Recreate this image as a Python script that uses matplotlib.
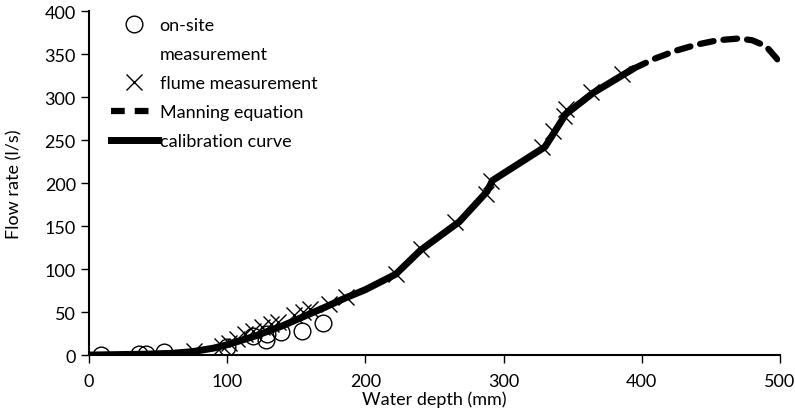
import matplotlib
matplotlib.use("Agg")
import matplotlib.pyplot as plt
from matplotlib.lines import Line2D

plt.rcParams['font.family'] = ['Lato', 'DejaVu Sans']

# on-site measurement
onsite_x = [9, 36, 41, 54, 100, 119, 128, 129, 139, 154, 169]
onsite_y = [0, 1, 1, 3, 9, 22, 17, 24, 27, 28, 37]

# flume measurement
flume_x = [76, 96, 101, 107, 113, 119, 125, 132, 137, 148, 155, 160, 174, 186,
           222, 240, 265, 287, 291, 328, 336, 344, 345, 363, 386]
flume_y = [5, 11, 14, 19, 25, 28, 33, 36, 38, 46, 50, 53, 59, 67,
           94, 123, 155, 187, 202, 242, 261, 278, 286, 306, 327]

# calibration curve
calib_x = [0, 20, 40, 60, 75, 90, 100, 110, 120, 130, 140, 150, 160, 170, 185,
           200, 222, 240, 268, 288, 292, 330, 345, 365, 394]
calib_y = [0, 0.5, 1, 2, 4, 8, 12, 17, 22, 28, 34, 41, 48, 55, 66,
           76, 94, 122, 155, 190, 203, 242, 280, 305, 333]

# Manning equation
manning_x = [394, 410, 425, 440, 455, 470, 480, 490, 497, 500]
manning_y = [333, 345, 354, 361, 366, 368, 366, 359, 346, 340]

legend_labels = ['on-site', 'measurement', 'flume measurement',
                 'Manning equation', 'calibration curve']

fig = plt.figure(figsize=(7.95, 4.14), dpi=100)
ax = fig.add_axes([0.112, 0.14, 0.869, 0.831])

ax.plot(manning_x, manning_y, color='black', lw=4.5, ls=(0, (2.2, 1.6)),
        dash_capstyle='round', solid_capstyle='round')
ax.plot(calib_x, calib_y, color='black', lw=5, solid_capstyle='round',
        solid_joinstyle='round')
ax.plot(flume_x, flume_y, ls='none', marker='x', ms=11, mew=1.0, color='black')
ax.plot(onsite_x, onsite_y, ls='none', marker='o', ms=12, mew=1.0,
        mfc='none', mec='black')

ax.set_xlim(0, 500)
ax.set_ylim(0, 400)
ax.set_xticks(range(0, 501, 100))
ax.set_yticks(range(0, 401, 50))
for s in ['top', 'right']:
    ax.spines[s].set_visible(False)
for s in ['left', 'bottom']:
    ax.spines[s].set_linewidth(1.5)
ax.tick_params(axis='both', labelsize=13, width=1.0, length=6, direction='out',
               colors='black')
ax.tick_params(axis='x', pad=7)
ax.set_xlabel('Water depth (mm)', fontsize=13, labelpad=1)
ax.set_ylabel('Flow rate (l/s)', fontsize=13, labelpad=16)

handles = [
    Line2D([], [], ls='none', marker='o', ms=12, mfc='none', mec='black', mew=1.0),
    Line2D([], [], ls='none', marker=None),
    Line2D([], [], ls='none', marker='x', ms=11, mew=1.0, color='black'),
    Line2D([], [], color='black', lw=4.5, ls=(0, (2.2, 1.6))),
    Line2D([], [], color='black', lw=5),
]
leg = ax.legend(handles, legend_labels, loc='upper left',
                bbox_to_anchor=(0.008, 1.03),
                frameon=False, fontsize=13, handlelength=2.6, handletextpad=0.1,
                labelspacing=0.72)

fig.savefig('out.png', dpi=100)
